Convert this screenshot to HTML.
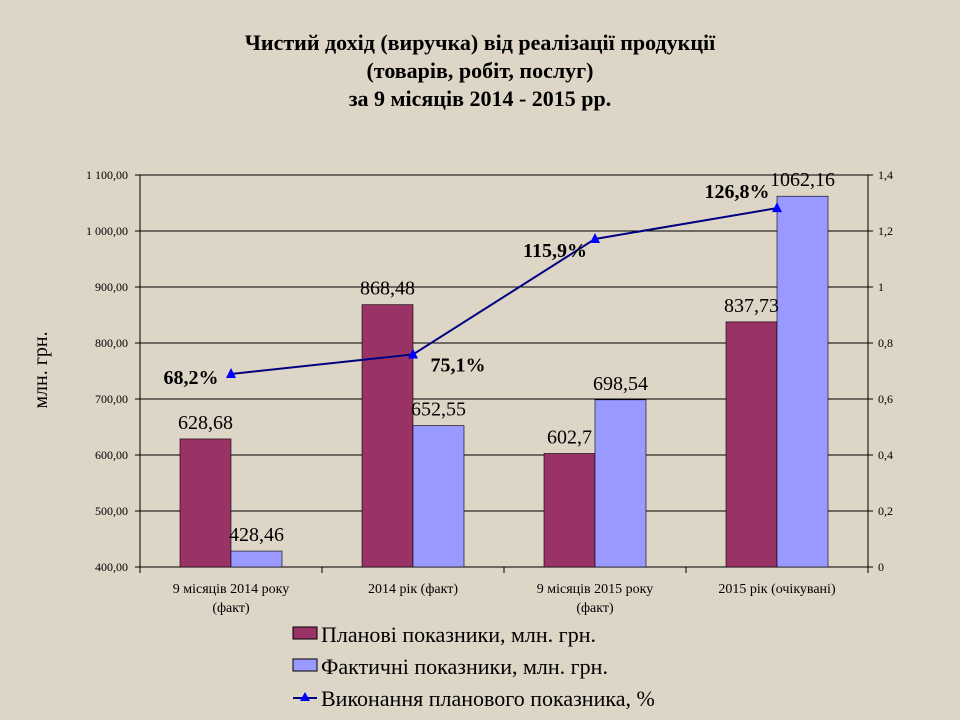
<!DOCTYPE html>
<html><head><meta charset="utf-8"><style>
body{margin:0;background:#ddd5c6}
svg{display:block;font-family:"Liberation Serif",serif}
</style></head><body>
<svg id="c" width="960" height="720">
<rect width="960" height="720" fill="#ddd5c6"/>
<g font-weight="bold" font-size="22" text-anchor="middle">
<text x="480" y="50">Чистий дохід (виручка) від реалізації продукції</text>
<text x="480" y="78">(товарів, робіт, послуг)</text>
<text x="480" y="106">за 9 місяців 2014 - 2015 рр.</text>
</g>
<text transform="translate(47,370) rotate(-90)" text-anchor="middle" font-size="20">млн. грн.</text>
<g id="plot"></g>
<g font-size="22">
<g><rect x="293" y="627" width="24" height="12" fill="#993366" stroke="#000"/><text x="321" y="642">Планові показники, млн. грн.</text></g>
<g><rect x="293" y="659" width="24" height="12" fill="#9999ff" stroke="#000"/><text x="321" y="674">Фактичні показники, млн. грн.</text></g>
<g><line x1="293" y1="698" x2="317" y2="698" stroke="#000080" stroke-width="2"/><path d="M305,692 L310,701 L300,701Z" fill="#0000ff"/><text x="321" y="706">Виконання планового показника, %</text></g>
</g>
</svg>
<script>
const categories=[["9 місяців  2014 року","(факт)"],["2014 рік (факт)"],["9 місяців  2015 року","(факт)"],["2015 рік (очікувані)"]];
const planned=[628.68,868.48,602.7,837.73];
const actual=[428.46,652.55,698.54,1062.16];
const execution=[0.682,0.751,1.159,1.268];
const executionLabels=["68,2%","75,1%","115,9%","126,8%"];
const plannedLabels=["628,68","868,48","602,7","837,73"];
const actualLabels=["428,46","652,55","698,54","1062,16"];
const leftTicks=["400,00","500,00","600,00","700,00","800,00","900,00","1 000,00","1 100,00"];
const rightTicks=["0","0,2","0,4","0,6","0,8","1","1,2","1,4"];
const L=140,R=868,T=175,B=567,yMin=400,yMax=1100,lineMax=1.385;
const y=v=>B-(v-yMin)/(yMax-yMin)*(B-T);
const yl=v=>B-v/lineMax*(B-T);
const cw=(R-L)/categories.length;
const cx=i=>L+cw*(i+0.5);
const NS="http://www.w3.org/2000/svg";
const g=document.getElementById('plot');
function el(t,a,p){const e=document.createElementNS(NS,t);for(const k in a)e.setAttribute(k,a[k]);(p||g).appendChild(e);return e;}
function txt(x,yy,s,a){const e=el('text',Object.assign({x:x,y:yy},a||{}));e.textContent=s;return e;}
const pa=el('rect',{x:L,y:T,width:R-L,height:B-T,fill:'none',stroke:'#000'});


leftTicks.forEach((t,i)=>{const v=yMin+i*100,yy=y(v);
 const gl=el('line',{x1:L-5,x2:R,y1:yy,y2:yy,stroke:'#000','stroke-width':1});
 
 
 const lt=txt(L-12,yy+4,t,{'font-size':12,'text-anchor':'end'});
 
 
});
rightTicks.forEach((t,i)=>{const yy=B-i/(rightTicks.length-1)*(B-T);
 el('line',{x1:R,x2:R+5,y1:yy,y2:yy,stroke:'#000'});
 const rt=txt(R+10,yy+4,t,{'font-size':12});
 
 
});
const bw=51;
categories.forEach((c,i)=>{
 el('line',{x1:L+cw*(i+1),x2:L+cw*(i+1),y1:B,y2:B+6,stroke:'#000'});
 c.forEach((s,j)=>{const ct=txt(cx(i),B+26+j*19,s,{'font-size':14,'text-anchor':'middle'});
  
  });
 const b1=el('rect',{x:cx(i)-bw,y:y(planned[i]),width:bw,height:B-y(planned[i]),fill:'#993366',stroke:'#000','stroke-width':0.6});
 
 
 const b2=el('rect',{x:cx(i),y:y(actual[i]),width:bw,height:B-y(actual[i]),fill:'#9999ff',stroke:'#000','stroke-width':0.6});
 
 
 const l1=txt(cx(i)-bw/2,y(planned[i])-10,plannedLabels[i],{'font-size':20,'text-anchor':'middle'});
 
 
 const l2=txt(cx(i)+bw/2,y(actual[i])-10,actualLabels[i],{'font-size':20,'text-anchor':'middle'});
 
 
});
el('line',{x1:L,x2:L,y1:B,y2:B+6,stroke:'#000'});
const pts=execution.map((v,i)=>cx(i)+','+yl(v)).join(' ');
const pl=el('polyline',{points:pts,fill:'none',stroke:'#000080','stroke-width':2});


const offs=[[-40,10],[45,17],[-40,18],[-40,-10]];
execution.forEach((v,i)=>{const X=cx(i),Y=yl(v);
 const m=el('path',{d:`M${X},${Y-6} L${X+5},${Y+4} L${X-5},${Y+4}Z`,fill:'#0000ff'});
 
 
 const t=txt(X+offs[i][0],Y+offs[i][1],executionLabels[i],{'font-size':20,'font-weight':'bold','text-anchor':'middle'});
 
 
});
</script>
</body></html>
